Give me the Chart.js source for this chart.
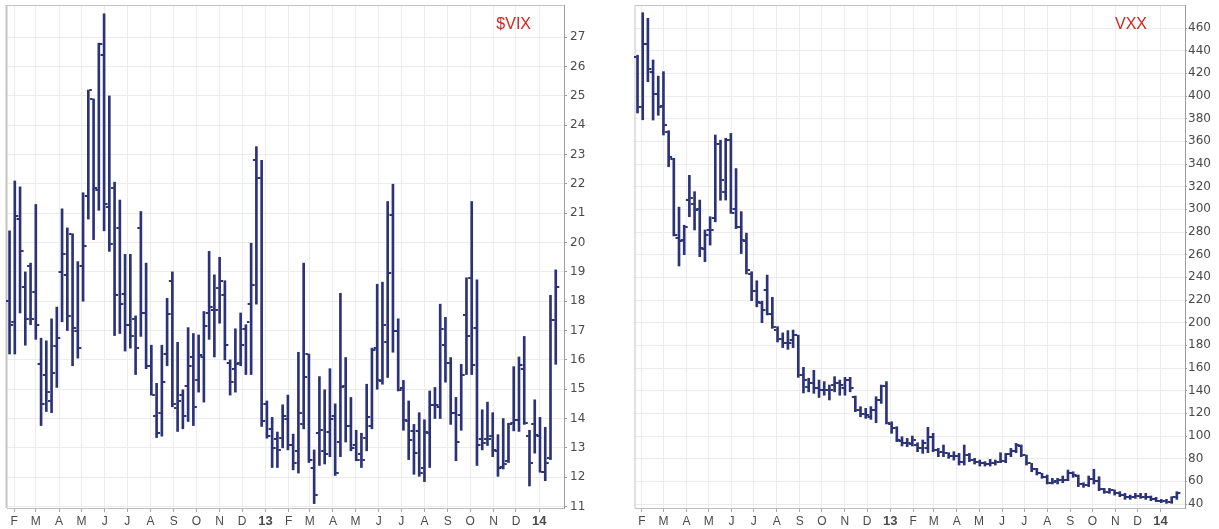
<!DOCTYPE html>
<html><head><meta charset="utf-8">
<script src="https://cdn.jsdelivr.net/npm/chart.js@4.4.0/dist/chart.umd.min.js"></script>
<style>
html,body{margin:0;padding:0;background:#fff;width:1219px;height:529px;overflow:hidden}
.box{position:absolute;top:0;height:529px}
#b1{left:0;width:605px}
#b2{left:620px;width:599px}
</style></head><body>
<div class="box" id="b1"><canvas id="c1"></canvas></div>
<div class="box" id="b2"><canvas id="c2"></canvas></div>
<script>
// ---- data ----
const firstWeek = '2012-01-26';   // first weekly bar
const monthLabels = ['F','M','A','M','J','J','A','S','O','N','D','13','F','M','A','M','J','J','A','S','O','N','D','14'];

const vixOpen  = [18.0,17.3,20.8,18.5,19.2,18.3,15.85,15.5,14.6,16.46,19.0,18.9,20.3,17.0,19.2,21.6,24.9,21.8,26.4,21.2,21.85,20.5,18.24,17.2,17.4,20.5,17.6,15.8,14.1,14.2,16.2,18.7,14.35,14.8,15.1,16.1,15.3,16.1,17.6,17.7,18.45,18.2,15.9,15.7,15.9,17.06,17.9,22.8,22.2,14.5,13.65,13.3,13.33,14.0,13.1,12.9,13.8,16.2,12.3,13.5,12.9,13.54,14.1,13.2,15.1,13.73,13.1,12.8,13.33,13.73,16.4,15.27,16.6,20.95,16.97,15.03,13.9,13.58,13.58,12.33,13.5,14.45,14.4,16.5,15.9,14.2,14.13,17.54,18.8,17.1,13.3,13.3,13.4,12.9,12.35,12.55,13.84,13.96,15.7,13.42,13.8,13.4,12.17,12.65,17.37];
const vixHigh  = [20.4,22.1,21.9,19.0,19.3,21.3,16.74,16.65,17.4,17.8,21.15,20.5,20.3,19.35,21.7,25.2,24.9,26.8,27.8,25.0,22.06,21.45,19.6,19.6,17.5,21.06,19.3,16.5,15.2,16.5,18.1,19.0,16.6,14.98,17.1,16.9,16.85,17.65,19.7,18.9,19.5,18.7,16.0,17.06,17.6,17.2,19.98,23.27,22.8,14.6,14.04,13.54,14.47,14.8,13.47,16.26,19.3,16.2,12.93,15.43,14.98,15.7,14.5,18.27,16.08,14.72,13.6,13.5,15.17,16.4,18.58,18.65,21.4,21.99,17.4,15.3,14.6,13.8,14.2,13.96,14.94,15.06,17.9,17.45,16.08,14.72,15.85,18.8,21.4,18.73,14.3,14.56,14.2,13.45,14.0,13.84,15.77,16.1,16.8,13.6,14.64,14.04,13.7,18.2,19.07];
const vixLow   = [16.2,16.2,17.6,16.5,17.2,16.7,13.76,14.24,14.2,15.06,17.3,17.0,15.8,16.06,18.0,20.8,20.1,21.1,20.4,19.7,16.83,16.9,16.3,16.4,15.5,16.8,15.7,14.8,13.35,13.4,15.8,14.4,13.56,13.65,13.9,13.76,14.9,14.56,16.7,16.1,17.25,16.0,14.8,14.9,15.8,15.5,15.5,17.9,13.73,13.33,12.33,12.33,13.0,12.93,12.25,12.14,13.65,12.5,11.1,12.4,12.45,12.7,12.06,12.7,13.2,12.9,12.56,12.33,12.9,13.65,15.0,15.17,15.4,16.26,14.94,13.6,12.6,12.1,12.03,11.85,12.33,14.0,14.0,15.24,13.8,12.56,13.6,15.5,15.5,12.4,12.93,13.08,12.7,12.03,12.28,12.5,13.58,13.56,13.8,11.7,12.82,12.17,11.88,12.6,15.85];
const vixClose = [17.2,20.9,19.7,17.4,17.4,17.2,14.5,14.9,15.55,16.74,19.6,17.5,17.1,16.4,19.9,25.2,21.85,26.76,21.3,19.95,18.2,17.9,17.2,16.8,16.4,17.6,15.8,14.8,13.5,15.24,17.56,14.5,14.6,14.07,15.8,14.4,16.17,17.14,17.8,17.7,18.7,16.5,15.24,15.85,16.5,17.3,18.56,22.2,13.9,13.4,13.0,12.93,14.07,13.1,12.5,14.2,15.4,12.6,11.4,13.6,12.8,14.0,12.14,15.06,13.73,13.0,12.6,12.6,14.04,16.34,15.3,17.2,18.96,16.97,14.97,13.96,13.27,12.82,12.14,13.54,14.45,14.45,17.06,15.9,14.2,13.2,15.5,16.8,15.83,13.1,13.16,13.3,12.93,12.3,12.45,13.8,13.96,15.83,13.84,12.5,13.44,12.17,12.5,17.37,18.47];

const vxxOpen  = [434,390,446,421,402,391,368,344,275,273,308,305,300,265,281.8,292,358,315.6,361,300,284.7,272,243,228,217,229,208,193.5,186,182,184.7,189,153.8,143.5,146.5,142,141,140.6,145,147,142,149,134.7,123,119.4,117,123,131.8,144,111,106.8,96,93.5,93,92,89,89,99.4,87.7,86.2,84.7,82.4,82,77.4,83.2,78.8,77.4,75.9,75.3,75.9,77.4,78,84.1,87.1,91,83.2,75.9,70.6,67.1,64.1,58.8,60,61.2,61.2,67.1,64.7,57.7,56.5,62,60,52.9,51,52.4,50,47.9,45.9,45.9,47.1,46.5,45.9,44.1,42.9,42.9,42.1,45.9];
const vxxHigh  = [436,473.5,468.5,431.8,417.6,421.5,369.4,345,302,286,330,315.6,308.2,281.8,293.5,365.6,361,362.7,367,336,298,279,245,237,219,242,222.4,196.5,191,193,193.5,189,160.6,151,158,149.4,148,145,152.4,149.4,151.8,151.8,135.3,125.9,124.4,125.9,134.7,145,148,112.6,108.2,99.4,97.9,100,94.1,96.5,107.7,102.4,89.1,92.1,85.3,86.2,84.7,92.1,84.7,80.3,78.8,77.4,79.4,78.8,85.3,84.7,89.1,93.5,92.1,83.2,75.9,71.5,67.1,65.6,62.7,62.7,64.7,70,68.5,65.6,58.8,64.7,70.6,64.1,53.8,53.8,52.4,50.9,49.4,47.9,49.4,49.4,49.4,47.1,45.9,44.1,44.1,46.5,50.9];
const vxxLow   = [385,379,412.6,378.8,383,365.6,337.6,276.5,250,260,293.5,281.8,258.2,253.8,268.5,289,308,308.2,296.5,283,261,243,219.4,214,200,206.8,195,183,178,176.5,178,151.8,138,139,137.7,134,136,131.8,139,136,136,139,121.5,117,115.6,114.7,111.8,128.8,110.6,102.4,95,91.2,90.6,91.2,86.2,84.7,85.3,86.2,81.8,81.8,80.3,78.8,74.4,74.4,77.4,75.3,73.5,73.5,73.5,74.4,76.5,76.5,81.8,85.3,81.8,74.4,68.5,65.6,62.7,57.7,57.7,57.7,58.8,60.6,63.5,55.3,54.7,55.3,57.7,51.8,49.4,49.4,47.9,46.5,44.1,44.1,45,45,44.1,42.9,42.1,41.2,40.6,40.6,44.1];
const vxxClose = [390,446,424,402,390.6,374.4,346.5,277.4,272,284,309.7,299.4,265.6,277.4,282,358,326,361,296.5,284.7,273,246.5,228,218,211,208,196.5,186,182,182,189,153.8,149.4,146.5,142,141,140.6,141,147,145,149.4,142,123,119.4,118.5,123,131.8,144,111.2,106.8,96.5,93.5,94,96.5,89.1,93.5,99.4,87.7,86.2,84.7,82.4,82,77.4,83.2,78.8,77.4,75.9,75.3,75.9,77.4,78,84.1,87.1,92.1,83.2,75.9,70.6,67.1,64.1,58.8,59.5,61.2,61.2,67.1,65.6,57.7,56.5,62,60,52.9,51,52.4,50,47.9,45.9,45.9,47.1,46.5,45.9,44.1,42.9,42.9,42.1,45.9,49.4];

const vixTicks = [11,12,13,14,15,16,17,18,19,20,21,22,23,24,25,26,27];
const vxxTicks = [40,60,80,100,120,140,160,180,200,220,240,260,280,300,320,340,360,380,400,420,440,460];

// ---- helpers ----
const BAR = '#2c3278';
const DAY0 = Date.UTC(2012, 0, 1);
const dayOf = s => (Date.parse(s + 'T00:00:00Z') - DAY0) / 864e5;
const weekDays = vixOpen.map((_, i) => dayOf(firstWeek) + 7 * i);
const monthDays = monthLabels.map((_, k) => (Date.UTC(2012, 1 + k, 1) - DAY0) / 864e5);
const X_MIN = 21.6, X_MAX = 764;
const FONT = '"Liberation Sans", Arial, sans-serif';

function ohlcPlugin(open, close) {
  return {
    id: 'ohlcTicks',
    afterDatasetsDraw(chart) {
      const meta = chart.getDatasetMeta(0), y = chart.scales.y, ctx = chart.ctx;
      ctx.save();
      ctx.strokeStyle = BAR; ctx.lineWidth = 2; ctx.lineCap = 'butt';
      ctx.beginPath();
      meta.data.forEach((bar, i) => {
        const yo = Math.round(y.getPixelForValue(open[i]));
        const yc = Math.round(y.getPixelForValue(close[i]));
        ctx.moveTo(bar.x - 1, yo); ctx.lineTo(bar.x - 3.5, yo);
        ctx.moveTo(bar.x + 1, yc); ctx.lineTo(bar.x + 3.5, yc);
      });
      ctx.stroke();
      ctx.restore();
    }
  };
}
function framePlugin(leftW) {
  return {
    id: 'frame',
    beforeDatasetsDraw(chart) {
      const a = chart.chartArea, ctx = chart.ctx;
      ctx.save();
      ctx.strokeStyle = '#c4c4c4';
      ctx.lineWidth = 1;
      ctx.beginPath();
      ctx.moveTo(a.left, a.top + 0.5); ctx.lineTo(a.right, a.top + 0.5);
      ctx.stroke();
      ctx.lineWidth = leftW;
      ctx.beginPath();
      ctx.moveTo(a.left - leftW / 2 + 0.5, a.top); ctx.lineTo(a.left - leftW / 2 + 0.5, a.bottom);
      ctx.stroke();
      ctx.restore();
    }
  };
}
function cornerPlugin(text, offset) {
  return {
    id: 'corner',
    afterDraw(chart) {
      const a = chart.chartArea, ctx = chart.ctx;
      ctx.save();
      ctx.font = '16px ' + FONT;
      ctx.fillStyle = '#d3261c';
      ctx.textAlign = 'right';
      ctx.textBaseline = 'middle';
      ctx.fillText(text, a.right - offset, a.top + 20);
      ctx.restore();
    }
  };
}

function makeChart(id, o) {
  const data = o.high.map((hv, i) => ({ x: weekDays[i], y: [o.low[i], hv] }));
  return new Chart(document.getElementById(id), {
    type: 'bar',
    data: { datasets: [{ data, backgroundColor: BAR, borderWidth: 0, barThickness: 2, grouped: false }] },
    options: {
      responsive: true, maintainAspectRatio: false, animation: false,
      layout: { padding: { left: o.padLeft, top: 5, right: 0, bottom: 0 } },
      plugins: { legend: { display: false }, tooltip: { enabled: false } },
      scales: {
        x: {
          type: 'linear', min: X_MIN, max: X_MAX, offset: false,
          grid: { offset: false, color: '#ececec', tickColor: '#a8a8a8', tickLength: 4 },
          border: { color: '#bdbdbd', width: 1 },
          afterBuildTicks: s => { s.ticks = monthDays.map(v => ({ value: v })); },
          afterFit: s => { s.height = 21; s.paddingLeft = 0; s.paddingRight = 0; },
          ticks: {
            autoSkip: false, maxRotation: 0, padding: 2, color: '#4a4a4a',
            font: ctx => (/^\d/.test(monthLabels[ctx.index] || '') ?
              { size: 13, weight: 'bold', family: FONT } :
              { size: 12, family: FONT }),
            callback: (v, i) => monthLabels[i]
          }
        },
        y: {
          position: 'right', min: o.yMin, max: o.yMax, beginAtZero: false,
          grid: { color: '#ececec', tickColor: '#a0a0a0', tickLength: o.tickLen },
          border: { color: '#9c9c9c', width: 1 },
          afterBuildTicks: s => { s.ticks = o.ticks.map(v => ({ value: v })); },
          afterFit: s => { s.width = o.yWidth; s.paddingTop = 0; s.paddingBottom = 0; },
          ticks: { autoSkip: false, padding: o.tickPad, color: '#4a4a4a',
                   font: { size: 12, family: '"DejaVu Sans", sans-serif' } }
        }
      }
    },
    plugins: [framePlugin(o.leftW), ohlcPlugin(o.open, o.close), cornerPlugin(o.title, o.titleOffset)]
  });
}

makeChart('c1', { open: vixOpen, high: vixHigh, low: vixLow, close: vixClose,
  ticks: vixTicks, yMin: 10.95, yMax: 28.1, padLeft: 7, yWidth: 41, tickLen: 3, tickPad: 3,
  title: '$VIX', titleOffset: 33, leftW: 2 });
makeChart('c2', { open: vxxOpen, high: vxxHigh, low: vxxLow, close: vxxClose,
  ticks: vxxTicks, yMin: 36.5, yMax: 480.3, padLeft: 15, yWidth: 34, tickLen: 2, tickPad: 1,
  title: 'VXX', titleOffset: 38, leftW: 1 });
</script>
</body></html>
